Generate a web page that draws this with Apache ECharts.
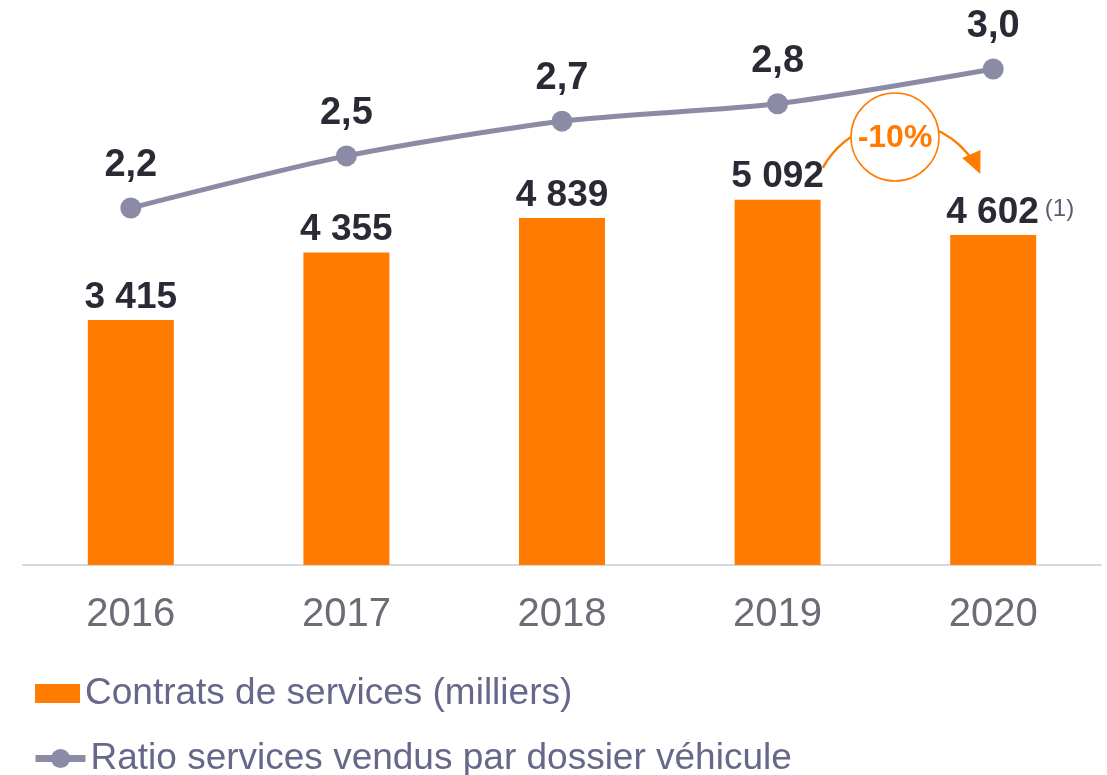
<!DOCTYPE html>
<html>
<head>
<meta charset="utf-8">
<script src="https://cdn.jsdelivr.net/npm/echarts@6/dist/echarts.min.js"></script>
<style>
  html, body { margin: 0; padding: 0; background: #fff; }
  #main { width: 1107px; height: 775px; }
</style>
</head>
<body>
<div id="main"></div>
<script>
const years = ['2016', '2017', '2018', '2019', '2020'];
const contrats = [3415, 4355, 4839, 5092, 4602];
const ratio = [2.2, 2.5, 2.7, 2.8, 3.0];
const growthLabel = '-10%';
const barName = 'Contrats de services (milliers)';
const lineName = 'Ratio services vendus par dossier véhicule';

const orange = '#FF7C00';
const lineColor = '#8B8BA6';
const darkText = '#2A2A36';
const font = 'Liberation Sans';

const fmtThousands = v => String(v).replace(/\B(?=(\d{3})+(?!\d))/g, ' ');
const fmtDecimal = v => v.toFixed(1).replace('.', ',');

const chart = echarts.init(document.getElementById('main'));

// curved arrow around the -10% badge
const arcC = [900, 210], arcR = 88;
const a0 = Math.atan2(168 - arcC[1], 823 - arcC[0]);
const a1 = -0.42;
const tip = [arcC[0] + arcR * Math.cos(a1), arcC[1] + arcR * Math.sin(a1)];
const tan = [-Math.sin(a1), Math.cos(a1)];
const nrm = [tan[1], -tan[0]];
const hl = 22, hw = 10;
const base = [tip[0] - tan[0] * hl, tip[1] - tan[1] * hl];

const legendText = { fontFamily: font, fontSize: 37, color: '#67678A' };

chart.setOption({
  animation: false,
  grid: { left: 23, right: 6, top: 27, bottom: 210 },
  legend: [
    {
      left: 30,
      top: 670,
      itemWidth: 45,
      itemHeight: 19,
      icon: 'rect',
      textStyle: legendText,
      data: [barName]
    },
    {
      left: 27,
      top: 735,
      itemWidth: 50,
      itemHeight: 24,
      textStyle: legendText,
      lineStyle: { width: 7 },
      data: [lineName]
    }
  ],
  xAxis: {
    type: 'category',
    data: years,
    axisTick: { show: false },
    axisLine: { lineStyle: { color: '#D8D8E0', width: 2 } },
    axisLabel: { fontFamily: font, fontSize: 40, color: '#6C6C76', margin: 30 }
  },
  yAxis: [
    { type: 'value', min: 0, max: 7500, show: false, splitLine: { show: false } },
    { type: 'value', min: 0.145, max: 3.242, show: false, splitLine: { show: false } }
  ],
  series: [
    {
      name: barName,
      type: 'bar',
      data: contrats,
      barWidth: 86,
      itemStyle: { color: orange },
      label: {
        show: true,
        position: 'top',
        distance: 4,
        fontFamily: font,
        fontSize: 37,
        fontWeight: 'bold',
        color: darkText,
        formatter: p => p.dataIndex === years.length - 1
          ? fmtThousands(p.value) + '{n|(1)}'
          : fmtThousands(p.value),
        rich: {
          n: { fontFamily: font, fontSize: 24, fontWeight: 'normal', color: '#5C5C72', padding: [0, 0, 6, 6] }
        }
      },
      labelLayout: p => p.dataIndex === years.length - 1 ? { dx: 17 } : {}
    },
    {
      name: lineName,
      type: 'line',
      yAxisIndex: 1,
      data: ratio,
      smooth: 0.25,
      symbol: 'circle',
      symbolSize: 21,
      lineStyle: { color: lineColor, width: 5 },
      itemStyle: { color: lineColor },
      label: {
        show: true,
        position: 'top',
        distance: 13,
        fontFamily: font,
        fontSize: 38,
        fontWeight: 'bold',
        color: darkText,
        formatter: p => fmtDecimal(p.value)
      }
    }
  ],
  graphic: [
    {
      type: 'arc',
      shape: { cx: arcC[0], cy: arcC[1], r: arcR, startAngle: a0, endAngle: a1 - 0.15, clockwise: true },
      style: { stroke: orange, lineWidth: 2.5, fill: null },
      z: 10
    },
    {
      type: 'polygon',
      shape: {
        points: [
          tip,
          [base[0] + nrm[0] * hw, base[1] + nrm[1] * hw],
          [base[0] - nrm[0] * hw, base[1] - nrm[1] * hw]
        ]
      },
      style: { fill: orange },
      z: 10
    },
    {
      type: 'circle',
      shape: { cx: 895, cy: 137, r: 44 },
      style: { fill: '#fff', stroke: orange, lineWidth: 1.5 },
      z: 11
    },
    {
      type: 'text',
      x: 895,
      y: 138,
      style: {
        text: growthLabel,
        fontFamily: font,
        fontSize: 32,
        fontWeight: 'bold',
        fill: orange,
        align: 'center',
        verticalAlign: 'middle'
      },
      z: 12
    }
  ]
});
</script>
</body>
</html>
